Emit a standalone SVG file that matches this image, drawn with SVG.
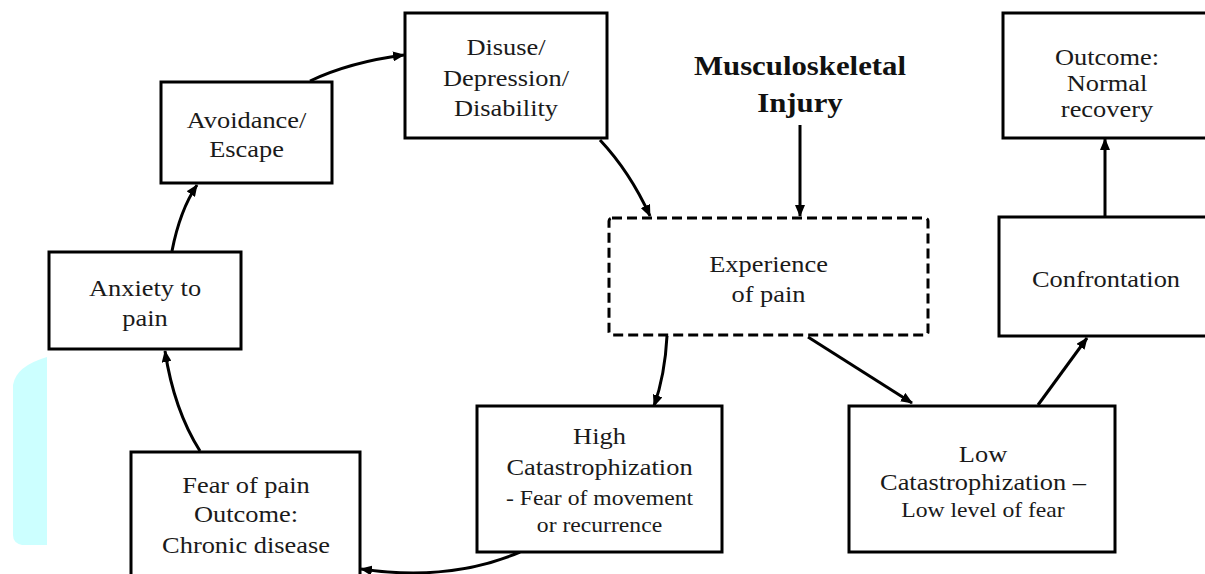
<svg xmlns="http://www.w3.org/2000/svg" width="1205" height="574" viewBox="0 0 1205 574">
<defs>
<style>
.box{fill:#fff;stroke:#000;stroke-width:3}
.dash{fill:#fff;stroke:#000;stroke-width:3;stroke-dasharray:10 5}
.t{font-family:"Liberation Serif","Times New Roman",serif;font-size:24px;fill:#1a1a1a;text-anchor:middle}
.s{font-size:21.5px}
.b{font-weight:bold;font-size:28px;fill:#111}
.c{fill:none;stroke:#000;stroke-width:3;marker-end:url(#ah)}
</style>
<marker id="ah" viewBox="0 0 12 10" refX="11" refY="5" markerWidth="12" markerHeight="10" markerUnits="userSpaceOnUse" orient="auto">
<path d="M0,0 L12,5 L0,10 Z" fill="#000"/>
</marker>
</defs>
<rect width="1205" height="574" fill="#fff"/>
<path d="M47,357 L47,545 L22,545 Q13,543 13,535 L13,385 Q16,366 47,357 Z" fill="#ccffff"/>

<g id="connectors">
<path class="c" d="M172,251 Q180,210 197,185"/>
<path class="c" d="M310,81 Q350,62 404,55"/>
<path class="c" d="M600,140 Q630,172 650,216"/>
<path class="c" d="M800,125 L800,216"/>
<path class="c" d="M667,336 Q665,375 654,406"/>
<path class="c" d="M808,337 L912,403"/>
<path class="c" d="M1038,405 L1087,338"/>
<path class="c" d="M1105,217 L1105,139"/>
<path class="c" d="M520,552 Q450,582 361,569"/>
<path class="c" d="M200,451 Q174,410 165,351"/>
</g>

<g id="avoidance">
<rect class="box" x="161" y="82" width="171" height="101"/>
<g transform="translate(246.5 0) scale(1.1 1)"><text class="t" x="0" y="128">Avoidance/</text><text class="t" x="0" y="157">Escape</text></g>
</g>
<g id="anxiety">
<rect class="box" x="49" y="252" width="192" height="97"/>
<g transform="translate(145 0) scale(1.1 1)"><text class="t" x="0" y="296">Anxiety to</text><text class="t" x="0" y="326">pain</text></g>
</g>
<g id="disuse">
<rect class="box" x="405" y="13" width="202" height="125"/>
<g transform="translate(506 0) scale(1.1 1)"><text class="t" x="0" y="55">Disuse/</text><text class="t" x="0" y="86">Depression/</text><text class="t" x="0" y="116">Disability</text></g>
</g>
<g id="injury">
<g transform="translate(800 0) scale(1.1 1)"><text class="t b" x="0" y="75">Musculoskeletal</text><text class="t b" x="0" y="112">Injury</text></g>
</g>
<g id="experience">
<rect class="dash" x="609" y="218" width="319" height="117" rx="3"/>
<g transform="translate(768.5 0) scale(1.1 1)"><text class="t" x="0" y="272">Experience</text><text class="t" x="0" y="302">of pain</text></g>
</g>
<g id="outcome-normal">
<rect class="box" x="1003" y="13" width="215" height="125"/>
<g transform="translate(1107 0) scale(1.1 1)"><text class="t" x="0" y="65">Outcome:</text><text class="t" x="0" y="91">Normal</text><text class="t" x="0" y="117">recovery</text></g>
</g>
<g id="confrontation">
<rect class="box" x="999" y="217" width="220" height="119"/>
<g transform="translate(1106 0) scale(1.1 1)"><text class="t" x="0" y="287">Confrontation</text></g>
</g>
<g id="high">
<rect class="box" x="477" y="406" width="245" height="146"/>
<g transform="translate(599.5 0) scale(1.1 1)"><text class="t" x="0" y="444">High</text><text class="t" x="0" y="475">Catastrophization</text><text class="t s" x="0" y="505">- Fear of movement</text><text class="t s" x="0" y="532">or recurrence</text></g>
</g>
<g id="low">
<rect class="box" x="849" y="406" width="266" height="146"/>
<g transform="translate(983 0) scale(1.1 1)"><text class="t" x="0" y="462">Low</text><text class="t" x="0" y="490">Catastrophization –</text><text class="t s" x="0" y="517">Low level of fear</text></g>
</g>
<g id="fear">
<rect class="box" x="131" y="452" width="229" height="140"/>
<g transform="translate(246 0) scale(1.1 1)"><text class="t" x="0" y="493">Fear of pain</text><text class="t" x="0" y="522">Outcome:</text><text class="t" x="0" y="553">Chronic disease</text></g>
</g>
</svg>
